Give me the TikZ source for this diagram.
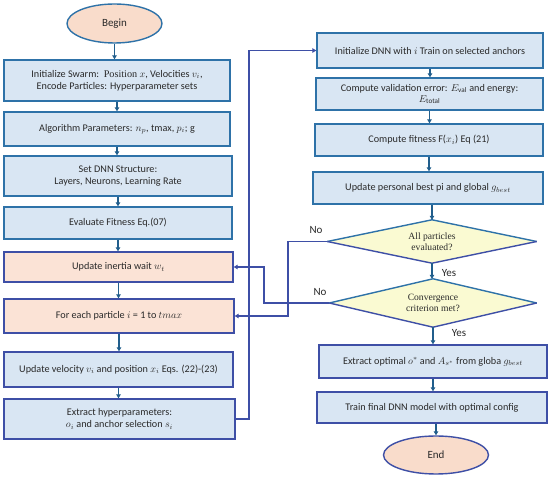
\documentclass[tikz,border=0pt]{standalone}
\usepackage{fontspec}
\setmainfont{Carlito}
\newfontfamily\serifdiam{Liberation Serif}
\usetikzlibrary{shapes.geometric,arrows.meta}
\definecolor{boxfill}{HTML}{D9E6F3}
\definecolor{orfill}{HTML}{FBE3D6}
\definecolor{yefill}{HTML}{FAFAD2}
\definecolor{elfill}{HTML}{F9DCCB}
\definecolor{tealb}{HTML}{2E72A8}
\definecolor{purb}{HTML}{3E4FA6}
\definecolor{arrc}{HTML}{215E8C}
\definecolor{txt}{HTML}{2A2A2A}
\tikzset{
  base/.style={draw, line width=1.4pt, text=txt, font=\fontsize{10.2}{12}\selectfont, align=center, inner sep=1pt},
  bbox/.style={base, rectangle, fill=boxfill, draw=tealb},
  pbox/.style={base, rectangle, fill=boxfill, draw=purb},
  obox/.style={base, rectangle, fill=orfill, draw=purb},
  term/.style={base, ellipse, fill=elfill, font=\fontsize{11}{13}\selectfont},
  dia/.style={diamond, aspect=4.8, inner sep=0pt, fill=yefill, text=txt, align=center, font=\serifdiam\fontsize{9.6}{11}\selectfont},
  arr/.style={draw=arrc, line width=1.3pt, -{Triangle[length=4pt,width=4.5pt]}},
  loopc/.style={draw=purb, line width=1.3pt, -{Triangle[length=4pt,width=4.5pt]}},
  lab/.style={font=\fontsize{11}{12}\selectfont, text=txt, inner sep=0pt}
}
\begin{document}
\begin{tikzpicture}[x=1pt,y=-1pt]
\fill[white] (0,0) rectangle (550,478);
\useasboundingbox (0,0) rectangle (550,478);
% left column
\node[term, draw=tealb, minimum width=95pt, minimum height=39pt] (begin) at (114.5,23.5) {Begin};
\node[bbox, minimum width=226pt, minimum height=41pt] (b1) at (117,80.5) {Initialize Swarm:\ \ {\serifdiam Position} $x$, Velocities $v_i$,\\Encode Particles: Hyperparameter sets};
\node[bbox, minimum width=226pt, minimum height=34pt] (b2) at (117,129) {Algorithm Parameters: $n_p$, tmax, $p_i$; g};
\node[bbox, minimum width=228pt, minimum height=40pt] (b3) at (118,176) {Set DNN Structure:\\Layers, Neurons, Learning Rate};
\node[bbox, minimum width=228pt, minimum height=32pt] (b4) at (118,223) {Evaluate Fitness Eq.(07)};
\node[obox, minimum width=229pt, minimum height=30pt] (b5) at (118.5,267) {Update inertia wait $w_t$};
\node[obox, minimum width=230pt, minimum height=34pt] (b6) at (119,316) {For each particle $i$ = 1 to $tmax$};
\node[pbox, minimum width=229pt, minimum height=35pt] (b7) at (118.5,369.5) {Update velocity $v_i$ and position $x_i$ Eqs. (22)-(23)};
\node[pbox, minimum width=231pt, minimum height=40pt] (b8) at (119.5,419) {Extract hyperparameters:\\$o_i$ and anchor selection $s_i$};
% right column
\node[bbox, minimum width=226pt, minimum height=35pt] (r1) at (430,50.5) {Initialize DNN with $i$ Train on selected anchors};
\node[bbox, minimum width=227pt, minimum height=32pt, font=\fontsize{10.2}{11}\selectfont] (r2) at (429.5,94) {Compute validation error: $E_{\mathrm{val}}$ and energy:\\$E_{\mathrm{total}}$};
\node[bbox, minimum width=228pt, minimum height=32pt] (r3) at (429,140) {Compute fitness F($x_i$) Eq (21)};
\node[bbox, minimum width=230pt, minimum height=32pt] (r4) at (428,188) {Update personal best pi and global $g_{best}$};
\node[dia, minimum width=209pt, minimum height=43pt] (d1) at (432,241.5) {All particles\\evaluated?};
\node[dia, minimum width=207pt, minimum height=48pt] (d2) at (433,303) {Convergence\\criterion met?};
\draw[tealb, line width=1.4pt, line join=round] (d1.west) -- (d1.north) -- (d1.east);
\draw[purb, line width=1.4pt, line join=round] (d1.west) -- (d1.south) -- (d1.east);
\draw[tealb, line width=1.4pt, line join=round] (d2.west) -- (d2.north) -- (d2.east);
\draw[purb, line width=1.4pt, line join=round] (d2.west) -- (d2.south) -- (d2.east);
\node[pbox, minimum width=228pt, minimum height=33pt] (r5) at (433,361.5) {Extract optimal $o^{*}$ and $A_{s^{*}}$ from globa $g_{best}$};
\node[pbox, minimum width=230pt, minimum height=31pt] (r6) at (432,407.5) {Train final DNN model with optimal config};
\node[term, draw=purb, minimum width=105pt, minimum height=38pt] (end) at (436,455) {End};
% vertical arrows left
\draw[arr] (begin.south) -- (begin.south |- b1.north);
\draw[arr] (b1.south) -- (b1.south |- b2.north);
\draw[arr] (b2.south) -- (b2.south |- b3.north);
\draw[arr] (b3.south) -- (b3.south |- b4.north);
\draw[arr] (b4.south) -- (b4.south |- b5.north);
\draw[arr] (b5.south) -- (b5.south |- b6.north);
\draw[arr] (b6.south) -- (b6.south |- b7.north);
\draw[arr] (b7.south) -- (b7.south |- b8.north);
% vertical arrows right
\draw[arr] (r1.south) -- (r1.south |- r2.north);
\draw[arr] (r2.south) -- (r2.south |- r3.north);
\draw[arr] (r3.south) -- (r3.south |- r4.north);
\draw[arr] (r4.south -| d1.north) -- (d1.north);
\draw[arr] (d1.south) -- (d1.south |- d2.north);
\draw[arr] (d2.south) -- (d2.south |- r5.north);
\draw[arr] (r5.south) -- (r5.south |- r6.north);
\draw[arr] (r6.south -| end.north) -- (end.north);
% loop connectors
\coordinate (k1) at (249,0);
\coordinate (k2) at (288,0);
\coordinate (k3) at (264,0);
\draw[loopc] (b8.east) -- (b8.east -| k1) -- (k1 |- r1.west) -- (r1.west);
\draw[loopc] (d1.west) -- (d1.west -| k2) -- (k2 |- b6.east) -- (b6.east);
\draw[loopc] (d2.west) -- (d2.west -| k3) -- (k3 |- b5.east) -- (b5.east);
% labels
\node[lab] (no1) at (316,230) {No};
\node[lab] (no2) at (320,292) {No};
\node[lab] (yes1) at (449,273) {Yes};
\node[lab] (yes2) at (459,333) {Yes};
\end{tikzpicture}
\end{document}
